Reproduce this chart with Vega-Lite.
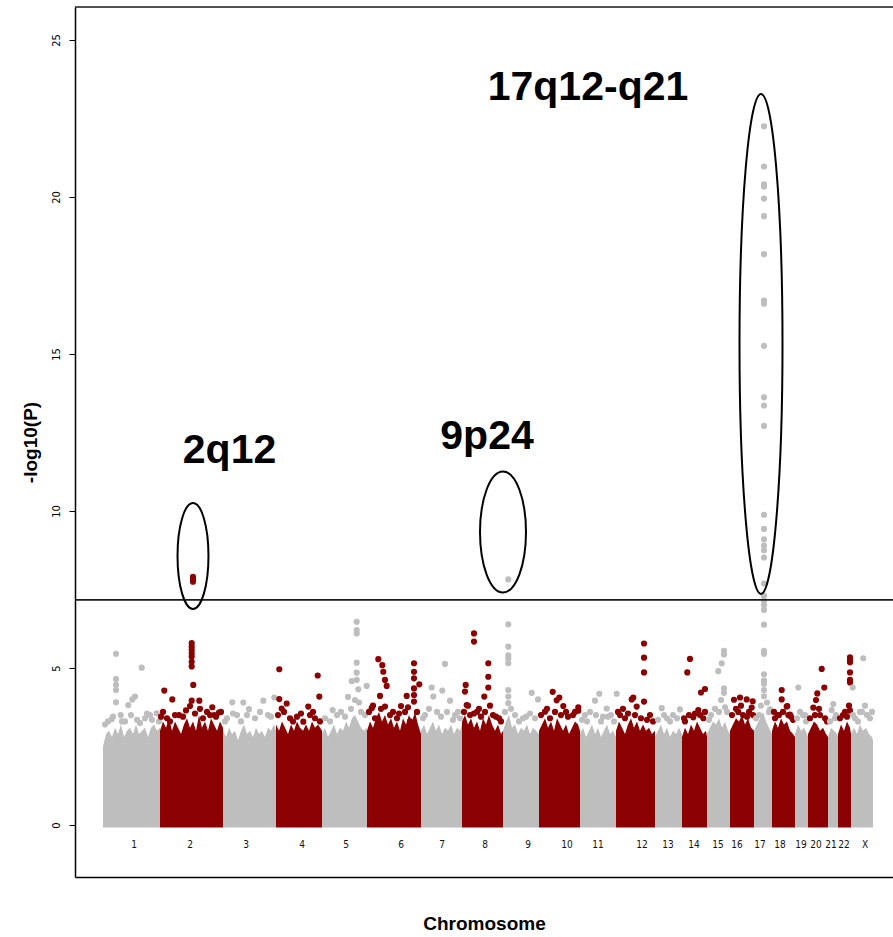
{
  "$schema": "https://vega.github.io/schema/vega-lite/v6.json",
  "autosize": {"type": "none"},
  "padding": {"left": 75, "top": 7, "right": 0, "bottom": 60},
  "width": 818,
  "height": 870,
  "background": "white",
  "view": {"stroke": null},
  "datasets": {
    "mass": [
      {"chr":"1","c":"g","pos":28,"top":2.5},{"chr":"1","c":"g","pos":31,"top":2.9},{"chr":"1","c":"g","pos":34,"top":3.0},{"chr":"1","c":"g","pos":37,"top":2.8},{"chr":"1","c":"g","pos":40,"top":3.1},{"chr":"1","c":"g","pos":43,"top":2.9},{"chr":"1","c":"g","pos":46,"top":3.2},{"chr":"1","c":"g","pos":49,"top":2.8},{"chr":"1","c":"g","pos":52,"top":3.0},{"chr":"1","c":"g","pos":55,"top":3.1},{"chr":"1","c":"g","pos":58,"top":2.9},{"chr":"1","c":"g","pos":61,"top":3.2},{"chr":"1","c":"g","pos":64,"top":2.9},{"chr":"1","c":"g","pos":67,"top":3.0},{"chr":"1","c":"g","pos":70,"top":3.1},{"chr":"1","c":"g","pos":73,"top":2.8},{"chr":"1","c":"g","pos":76,"top":3.1},{"chr":"1","c":"g","pos":79,"top":3.2},{"chr":"1","c":"g","pos":82,"top":3.0},{"chr":"1","c":"g","pos":85,"top":3.1},
      {"chr":"2","c":"r","pos":85,"top":3.0},{"chr":"2","c":"r","pos":88,"top":3.3},{"chr":"2","c":"r","pos":91,"top":3.1},{"chr":"2","c":"r","pos":94,"top":3.4},{"chr":"2","c":"r","pos":97,"top":3.0},{"chr":"2","c":"r","pos":100,"top":3.3},{"chr":"2","c":"r","pos":103,"top":3.1},{"chr":"2","c":"r","pos":106,"top":2.9},{"chr":"2","c":"r","pos":109,"top":3.2},{"chr":"2","c":"r","pos":112,"top":3.4},{"chr":"2","c":"r","pos":115,"top":3.1},{"chr":"2","c":"r","pos":118,"top":3.3},{"chr":"2","c":"r","pos":121,"top":3.0},{"chr":"2","c":"r","pos":124,"top":3.5},{"chr":"2","c":"r","pos":127,"top":3.1},{"chr":"2","c":"r","pos":130,"top":3.3},{"chr":"2","c":"r","pos":133,"top":3.0},{"chr":"2","c":"r","pos":136,"top":3.4},{"chr":"2","c":"r","pos":139,"top":3.2},{"chr":"2","c":"r","pos":142,"top":3.0},{"chr":"2","c":"r","pos":145,"top":3.3},{"chr":"2","c":"r","pos":148,"top":3.1},
      {"chr":"3","c":"g","pos":148,"top":3.0},{"chr":"3","c":"g","pos":151,"top":2.8},{"chr":"3","c":"g","pos":154,"top":3.1},{"chr":"3","c":"g","pos":157,"top":2.9},{"chr":"3","c":"g","pos":160,"top":3.0},{"chr":"3","c":"g","pos":163,"top":2.7},{"chr":"3","c":"g","pos":166,"top":3.0},{"chr":"3","c":"g","pos":169,"top":3.2},{"chr":"3","c":"g","pos":172,"top":2.9},{"chr":"3","c":"g","pos":175,"top":3.0},{"chr":"3","c":"g","pos":178,"top":2.8},{"chr":"3","c":"g","pos":181,"top":3.1},{"chr":"3","c":"g","pos":184,"top":2.9},{"chr":"3","c":"g","pos":187,"top":3.0},{"chr":"3","c":"g","pos":190,"top":2.8},{"chr":"3","c":"g","pos":193,"top":3.1},{"chr":"3","c":"g","pos":196,"top":3.0},{"chr":"3","c":"g","pos":199,"top":3.2},{"chr":"3","c":"g","pos":201,"top":3.0},
      {"chr":"4","c":"r","pos":201,"top":3.2},{"chr":"4","c":"r","pos":204,"top":3.0},{"chr":"4","c":"r","pos":207,"top":3.3},{"chr":"4","c":"r","pos":210,"top":3.1},{"chr":"4","c":"r","pos":213,"top":2.9},{"chr":"4","c":"r","pos":216,"top":3.2},{"chr":"4","c":"r","pos":219,"top":3.0},{"chr":"4","c":"r","pos":222,"top":3.3},{"chr":"4","c":"r","pos":225,"top":3.1},{"chr":"4","c":"r","pos":228,"top":3.0},{"chr":"4","c":"r","pos":231,"top":3.2},{"chr":"4","c":"r","pos":234,"top":3.0},{"chr":"4","c":"r","pos":237,"top":3.3},{"chr":"4","c":"r","pos":240,"top":3.1},{"chr":"4","c":"r","pos":243,"top":3.2},{"chr":"4","c":"r","pos":247,"top":3.0},
      {"chr":"5","c":"g","pos":247,"top":2.9},{"chr":"5","c":"g","pos":250,"top":3.1},{"chr":"5","c":"g","pos":253,"top":2.8},{"chr":"5","c":"g","pos":256,"top":3.0},{"chr":"5","c":"g","pos":259,"top":3.2},{"chr":"5","c":"g","pos":262,"top":2.9},{"chr":"5","c":"g","pos":265,"top":3.1},{"chr":"5","c":"g","pos":268,"top":3.0},{"chr":"5","c":"g","pos":271,"top":3.3},{"chr":"5","c":"g","pos":274,"top":3.1},{"chr":"5","c":"g","pos":277,"top":3.4},{"chr":"5","c":"g","pos":280,"top":3.5},{"chr":"5","c":"g","pos":283,"top":3.3},{"chr":"5","c":"g","pos":286,"top":3.1},{"chr":"5","c":"g","pos":289,"top":3.0},{"chr":"5","c":"g","pos":292,"top":3.1},
      {"chr":"6","c":"r","pos":292,"top":3.0},{"chr":"6","c":"r","pos":295,"top":3.3},{"chr":"6","c":"r","pos":298,"top":3.1},{"chr":"6","c":"r","pos":301,"top":3.4},{"chr":"6","c":"r","pos":304,"top":3.6},{"chr":"6","c":"r","pos":307,"top":3.3},{"chr":"6","c":"r","pos":310,"top":3.5},{"chr":"6","c":"r","pos":313,"top":3.2},{"chr":"6","c":"r","pos":316,"top":3.4},{"chr":"6","c":"r","pos":319,"top":3.1},{"chr":"6","c":"r","pos":322,"top":3.3},{"chr":"6","c":"r","pos":325,"top":3.0},{"chr":"6","c":"r","pos":328,"top":3.4},{"chr":"6","c":"r","pos":331,"top":3.2},{"chr":"6","c":"r","pos":334,"top":3.5},{"chr":"6","c":"r","pos":337,"top":3.3},{"chr":"6","c":"r","pos":340,"top":3.6},{"chr":"6","c":"r","pos":343,"top":3.2},{"chr":"6","c":"r","pos":346,"top":2.9},
      {"chr":"7","c":"g","pos":346,"top":3.0},{"chr":"7","c":"g","pos":349,"top":3.2},{"chr":"7","c":"g","pos":352,"top":2.9},{"chr":"7","c":"g","pos":355,"top":3.1},{"chr":"7","c":"g","pos":358,"top":3.3},{"chr":"7","c":"g","pos":361,"top":3.0},{"chr":"7","c":"g","pos":364,"top":3.2},{"chr":"7","c":"g","pos":367,"top":2.9},{"chr":"7","c":"g","pos":370,"top":3.1},{"chr":"7","c":"g","pos":373,"top":3.0},{"chr":"7","c":"g","pos":376,"top":3.2},{"chr":"7","c":"g","pos":379,"top":2.9},{"chr":"7","c":"g","pos":382,"top":3.1},{"chr":"7","c":"g","pos":385,"top":3.0},{"chr":"7","c":"g","pos":387,"top":3.2},
      {"chr":"8","c":"r","pos":387,"top":3.3},{"chr":"8","c":"r","pos":390,"top":3.5},{"chr":"8","c":"r","pos":393,"top":3.2},{"chr":"8","c":"r","pos":396,"top":3.4},{"chr":"8","c":"r","pos":399,"top":3.1},{"chr":"8","c":"r","pos":402,"top":3.3},{"chr":"8","c":"r","pos":405,"top":3.0},{"chr":"8","c":"r","pos":408,"top":3.4},{"chr":"8","c":"r","pos":411,"top":3.2},{"chr":"8","c":"r","pos":414,"top":3.5},{"chr":"8","c":"r","pos":417,"top":3.2},{"chr":"8","c":"r","pos":420,"top":3.0},{"chr":"8","c":"r","pos":423,"top":3.2},{"chr":"8","c":"r","pos":426,"top":2.9},{"chr":"8","c":"r","pos":428,"top":3.0},
      {"chr":"9","c":"g","pos":428,"top":3.0},{"chr":"9","c":"g","pos":431,"top":3.3},{"chr":"9","c":"g","pos":434,"top":3.5},{"chr":"9","c":"g","pos":437,"top":3.1},{"chr":"9","c":"g","pos":440,"top":3.2},{"chr":"9","c":"g","pos":443,"top":2.9},{"chr":"9","c":"g","pos":446,"top":3.1},{"chr":"9","c":"g","pos":449,"top":3.0},{"chr":"9","c":"g","pos":452,"top":3.2},{"chr":"9","c":"g","pos":455,"top":2.9},{"chr":"9","c":"g","pos":458,"top":3.1},{"chr":"9","c":"g","pos":461,"top":3.0},{"chr":"9","c":"g","pos":464,"top":2.9},
      {"chr":"10","c":"r","pos":464,"top":3.0},{"chr":"10","c":"r","pos":467,"top":3.2},{"chr":"10","c":"r","pos":470,"top":3.4},{"chr":"10","c":"r","pos":473,"top":3.1},{"chr":"10","c":"r","pos":476,"top":3.3},{"chr":"10","c":"r","pos":479,"top":3.0},{"chr":"10","c":"r","pos":482,"top":3.4},{"chr":"10","c":"r","pos":485,"top":3.2},{"chr":"10","c":"r","pos":488,"top":3.0},{"chr":"10","c":"r","pos":491,"top":3.2},{"chr":"10","c":"r","pos":494,"top":2.9},{"chr":"10","c":"r","pos":497,"top":3.1},{"chr":"10","c":"r","pos":500,"top":3.3},{"chr":"10","c":"r","pos":503,"top":3.2},{"chr":"10","c":"r","pos":505,"top":3.0},
      {"chr":"11","c":"g","pos":505,"top":2.9},{"chr":"11","c":"g","pos":508,"top":3.1},{"chr":"11","c":"g","pos":511,"top":2.8},{"chr":"11","c":"g","pos":514,"top":3.0},{"chr":"11","c":"g","pos":517,"top":3.2},{"chr":"11","c":"g","pos":520,"top":2.9},{"chr":"11","c":"g","pos":523,"top":3.1},{"chr":"11","c":"g","pos":526,"top":2.8},{"chr":"11","c":"g","pos":529,"top":3.0},{"chr":"11","c":"g","pos":532,"top":3.2},{"chr":"11","c":"g","pos":535,"top":2.9},{"chr":"11","c":"g","pos":538,"top":3.0},{"chr":"11","c":"g","pos":541,"top":2.8},
      {"chr":"12","c":"r","pos":541,"top":3.0},{"chr":"12","c":"r","pos":544,"top":3.3},{"chr":"12","c":"r","pos":547,"top":3.1},{"chr":"12","c":"r","pos":550,"top":2.9},{"chr":"12","c":"r","pos":553,"top":3.2},{"chr":"12","c":"r","pos":556,"top":3.4},{"chr":"12","c":"r","pos":559,"top":3.1},{"chr":"12","c":"r","pos":562,"top":3.3},{"chr":"12","c":"r","pos":565,"top":3.0},{"chr":"12","c":"r","pos":568,"top":3.2},{"chr":"12","c":"r","pos":571,"top":3.0},{"chr":"12","c":"r","pos":574,"top":3.1},{"chr":"12","c":"r","pos":577,"top":2.9},{"chr":"12","c":"r","pos":580,"top":3.0},
      {"chr":"13","c":"g","pos":580,"top":2.8},{"chr":"13","c":"g","pos":583,"top":3.0},{"chr":"13","c":"g","pos":586,"top":3.2},{"chr":"13","c":"g","pos":589,"top":2.9},{"chr":"13","c":"g","pos":592,"top":3.1},{"chr":"13","c":"g","pos":595,"top":2.8},{"chr":"13","c":"g","pos":598,"top":3.0},{"chr":"13","c":"g","pos":601,"top":2.9},{"chr":"13","c":"g","pos":604,"top":3.1},{"chr":"13","c":"g","pos":607,"top":2.9},
      {"chr":"14","c":"r","pos":607,"top":2.8},{"chr":"14","c":"r","pos":610,"top":3.1},{"chr":"14","c":"r","pos":613,"top":2.9},{"chr":"14","c":"r","pos":616,"top":3.2},{"chr":"14","c":"r","pos":619,"top":3.0},{"chr":"14","c":"r","pos":622,"top":3.3},{"chr":"14","c":"r","pos":625,"top":3.1},{"chr":"14","c":"r","pos":628,"top":2.9},{"chr":"14","c":"r","pos":631,"top":3.0},{"chr":"14","c":"r","pos":632,"top":2.8},
      {"chr":"15","c":"g","pos":632,"top":2.9},{"chr":"15","c":"g","pos":635,"top":3.1},{"chr":"15","c":"g","pos":638,"top":3.3},{"chr":"15","c":"g","pos":641,"top":3.2},{"chr":"15","c":"g","pos":644,"top":3.4},{"chr":"15","c":"g","pos":647,"top":3.1},{"chr":"15","c":"g","pos":650,"top":3.3},{"chr":"15","c":"g","pos":653,"top":3.0},{"chr":"15","c":"g","pos":655,"top":2.9},
      {"chr":"16","c":"r","pos":655,"top":3.0},{"chr":"16","c":"r","pos":658,"top":3.2},{"chr":"16","c":"r","pos":661,"top":3.4},{"chr":"16","c":"r","pos":664,"top":3.3},{"chr":"16","c":"r","pos":667,"top":3.5},{"chr":"16","c":"r","pos":670,"top":3.2},{"chr":"16","c":"r","pos":673,"top":3.4},{"chr":"16","c":"r","pos":676,"top":3.1},{"chr":"16","c":"r","pos":679,"top":3.0},
      {"chr":"17","c":"g","pos":679,"top":3.0},{"chr":"17","c":"g","pos":682,"top":3.2},{"chr":"17","c":"g","pos":685,"top":3.4},{"chr":"17","c":"g","pos":688,"top":3.6},{"chr":"17","c":"g","pos":691,"top":3.3},{"chr":"17","c":"g","pos":694,"top":3.1},{"chr":"17","c":"g","pos":697,"top":2.9},
      {"chr":"18","c":"r","pos":697,"top":3.0},{"chr":"18","c":"r","pos":700,"top":3.3},{"chr":"18","c":"r","pos":703,"top":3.1},{"chr":"18","c":"r","pos":706,"top":3.4},{"chr":"18","c":"r","pos":709,"top":3.2},{"chr":"18","c":"r","pos":712,"top":3.3},{"chr":"18","c":"r","pos":715,"top":3.0},{"chr":"18","c":"r","pos":718,"top":2.9},{"chr":"18","c":"r","pos":720,"top":2.8},
      {"chr":"19","c":"g","pos":720,"top":2.9},{"chr":"19","c":"g","pos":723,"top":3.2},{"chr":"19","c":"g","pos":726,"top":3.0},{"chr":"19","c":"g","pos":729,"top":3.1},{"chr":"19","c":"g","pos":732,"top":2.9},{"chr":"19","c":"g","pos":733,"top":2.8},
      {"chr":"20","c":"r","pos":733,"top":2.9},{"chr":"20","c":"r","pos":736,"top":3.1},{"chr":"20","c":"r","pos":739,"top":3.3},{"chr":"20","c":"r","pos":742,"top":3.2},{"chr":"20","c":"r","pos":745,"top":3.0},{"chr":"20","c":"r","pos":748,"top":3.1},{"chr":"20","c":"r","pos":751,"top":2.9},{"chr":"20","c":"r","pos":753,"top":2.8},
      {"chr":"21","c":"g","pos":753,"top":2.8},{"chr":"21","c":"g","pos":756,"top":3.1},{"chr":"21","c":"g","pos":759,"top":3.0},{"chr":"21","c":"g","pos":762,"top":2.9},{"chr":"21","c":"g","pos":763,"top":2.8},
      {"chr":"22","c":"r","pos":763,"top":2.9},{"chr":"22","c":"r","pos":766,"top":3.2},{"chr":"22","c":"r","pos":769,"top":3.0},{"chr":"22","c":"r","pos":772,"top":3.3},{"chr":"22","c":"r","pos":775,"top":3.1},{"chr":"22","c":"r","pos":776,"top":2.9},
      {"chr":"X","c":"g","pos":776,"top":2.9},{"chr":"X","c":"g","pos":779,"top":3.1},{"chr":"X","c":"g","pos":782,"top":2.9},{"chr":"X","c":"g","pos":785,"top":3.2},{"chr":"X","c":"g","pos":788,"top":3.0},{"chr":"X","c":"g","pos":791,"top":3.1},{"chr":"X","c":"g","pos":794,"top":2.9},{"chr":"X","c":"g","pos":797,"top":2.8},{"chr":"X","c":"g","pos":798,"top":2.7}
    ],
    "pts": [
      {"c":"g","pos":41,"p":5.45},{"c":"g","pos":66.7,"p":5.01},{"c":"g","pos":41,"p":4.65},{"c":"g","pos":41,"p":4.46},{"c":"g","pos":41,"p":4.3},{"c":"g","pos":41,"p":3.91},{"c":"g","pos":60,"p":4.09},{"c":"g","pos":57.3,"p":4.0},{"c":"g","pos":53.3,"p":3.82},{"c":"g","pos":45.7,"p":3.5},{"c":"g","pos":36.7,"p":3.37},{"c":"g","pos":75,"p":3.5},{"c":"g","pos":81.7,"p":3.56},{"c":"g","pos":33,"p":3.3},{"c":"g","pos":50,"p":3.3},{"c":"g","pos":65,"p":3.25},{"c":"g","pos":77,"p":3.35},{"c":"g","pos":70,"p":3.4},
      {"c":"g","pos":30,"p":3.2},{"c":"g","pos":38,"p":3.45},{"c":"g","pos":47,"p":3.3},{"c":"g","pos":56,"p":3.5},{"c":"g","pos":62,"p":3.35},{"c":"g","pos":72,"p":3.55},{"c":"g","pos":84,"p":3.3},
      {"c":"r","pos":118,"p":7.9},{"c":"r","pos":118,"p":7.85},{"c":"r","pos":118,"p":7.8},{"c":"r","pos":118,"p":7.75},
      {"c":"r","pos":116.7,"p":5.79},{"c":"r","pos":116.7,"p":5.68},{"c":"r","pos":116.7,"p":5.57},{"c":"r","pos":116.7,"p":5.47},{"c":"r","pos":116.7,"p":5.36},{"c":"r","pos":116.7,"p":5.2},{"c":"r","pos":116.7,"p":5.05},{"c":"r","pos":118.3,"p":4.46},{"c":"r","pos":89.3,"p":4.28},{"c":"r","pos":97.3,"p":4.0},{"c":"r","pos":116.7,"p":3.96},{"c":"r","pos":124.3,"p":3.96},{"c":"r","pos":115,"p":3.79},{"c":"r","pos":137.3,"p":3.75},{"c":"r","pos":144,"p":3.58},{"c":"r","pos":139.3,"p":3.5},{"c":"r","pos":92,"p":3.4},{"c":"r","pos":100,"p":3.5},{"c":"r","pos":108,"p":3.45},{"c":"r","pos":120,"p":3.55},{"c":"r","pos":128,"p":3.4},{"c":"r","pos":132,"p":3.6},{"c":"r","pos":141,"p":3.45},{"c":"r","pos":86,"p":3.45},
      {"c":"r","pos":88,"p":3.6},{"c":"r","pos":95,"p":3.3},{"c":"r","pos":104,"p":3.5},{"c":"r","pos":111,"p":3.65},{"c":"r","pos":125,"p":3.7},{"c":"r","pos":135,"p":3.5},{"c":"r","pos":146,"p":3.6},
      {"c":"g","pos":157.3,"p":3.91},{"c":"g","pos":168.3,"p":3.9},{"c":"g","pos":174,"p":3.69},{"c":"g","pos":188.3,"p":3.96},{"c":"g","pos":199.3,"p":4.06},{"c":"g","pos":152,"p":3.4},{"c":"g","pos":162,"p":3.5},{"c":"g","pos":180,"p":3.4},{"c":"g","pos":193,"p":3.5},
      {"c":"g","pos":150,"p":3.3},{"c":"g","pos":158,"p":3.55},{"c":"g","pos":166,"p":3.3},{"c":"g","pos":172,"p":3.5},{"c":"g","pos":185,"p":3.6},{"c":"g","pos":196,"p":3.45},
      {"c":"r","pos":204.3,"p":4.96},{"c":"r","pos":242.7,"p":4.76},{"c":"r","pos":244.3,"p":4.09},{"c":"r","pos":204.3,"p":4.01},{"c":"r","pos":211.7,"p":3.87},{"c":"r","pos":206.7,"p":3.71},{"c":"r","pos":233.3,"p":3.77},{"c":"r","pos":235,"p":3.5},{"c":"r","pos":228.3,"p":3.29},{"c":"r","pos":215,"p":3.4},{"c":"r","pos":222,"p":3.45},{"c":"r","pos":240,"p":3.4},
      {"c":"r","pos":203,"p":3.5},{"c":"r","pos":209,"p":3.6},{"c":"r","pos":218,"p":3.3},{"c":"r","pos":226,"p":3.55},{"c":"r","pos":238,"p":3.6},{"c":"r","pos":245,"p":3.3},
      {"c":"g","pos":281.7,"p":6.47},{"c":"g","pos":281.7,"p":6.21},{"c":"g","pos":281.7,"p":6.1},{"c":"g","pos":281.7,"p":5.17},{"c":"g","pos":281.7,"p":4.85},{"c":"g","pos":281.7,"p":4.62},{"c":"g","pos":276.7,"p":4.58},{"c":"g","pos":291.7,"p":4.43},{"c":"g","pos":283.3,"p":4.32},{"c":"g","pos":280,"p":3.98},{"c":"g","pos":273,"p":4.08},{"c":"g","pos":257.7,"p":3.66},{"c":"g","pos":262,"p":3.5},{"c":"g","pos":270,"p":3.45},{"c":"g","pos":286,"p":3.6},
      {"c":"g","pos":250,"p":3.4},{"c":"g","pos":255,"p":3.3},{"c":"g","pos":266,"p":3.6},{"c":"g","pos":276,"p":3.7},{"c":"g","pos":284,"p":3.9},{"c":"g","pos":290,"p":3.5},
      {"c":"r","pos":303.3,"p":5.28},{"c":"r","pos":307.3,"p":5.09},{"c":"r","pos":308.3,"p":4.88},{"c":"r","pos":310,"p":4.62},{"c":"r","pos":311.7,"p":4.43},{"c":"r","pos":305,"p":4.11},{"c":"r","pos":339,"p":5.15},{"c":"r","pos":339,"p":4.88},{"c":"r","pos":339,"p":4.67},{"c":"r","pos":339,"p":4.35},{"c":"r","pos":339,"p":4.14},{"c":"r","pos":339,"p":3.93},{"c":"r","pos":331.7,"p":4.11},{"c":"r","pos":326,"p":3.79},{"c":"r","pos":296.7,"p":3.72},{"c":"r","pos":310,"p":3.77},{"c":"r","pos":344.3,"p":4.48},{"c":"r","pos":300,"p":3.4},{"c":"r","pos":315,"p":3.5},{"c":"r","pos":322,"p":3.4},{"c":"r","pos":330,"p":3.6},{"c":"r","pos":335,"p":3.3},
      {"c":"r","pos":294,"p":3.6},{"c":"r","pos":298,"p":3.8},{"c":"r","pos":306,"p":3.7},{"c":"r","pos":318,"p":3.6},{"c":"r","pos":324,"p":3.55},{"c":"r","pos":333,"p":3.75},{"c":"r","pos":342,"p":3.6},
      {"c":"g","pos":370,"p":5.13},{"c":"g","pos":356.7,"p":4.38},{"c":"g","pos":367.3,"p":4.28},{"c":"g","pos":375,"p":3.96},{"c":"g","pos":358.3,"p":4.09},{"c":"g","pos":350,"p":3.5},{"c":"g","pos":362,"p":3.6},{"c":"g","pos":380,"p":3.5},{"c":"g","pos":385,"p":3.4},
      {"c":"g","pos":348,"p":3.4},{"c":"g","pos":354,"p":3.7},{"c":"g","pos":366,"p":3.45},{"c":"g","pos":372,"p":3.6},{"c":"g","pos":378,"p":3.35},{"c":"g","pos":383,"p":3.6},
      {"c":"r","pos":399,"p":6.1},{"c":"r","pos":399,"p":5.84},{"c":"r","pos":413.3,"p":5.15},{"c":"r","pos":413.3,"p":4.72},{"c":"r","pos":413.3,"p":4.38},{"c":"r","pos":409.3,"p":4.09},{"c":"r","pos":390.7,"p":4.46},{"c":"r","pos":390,"p":4.25},{"c":"r","pos":391.7,"p":3.82},{"c":"r","pos":395,"p":3.5},{"c":"r","pos":402,"p":3.6},{"c":"r","pos":418,"p":3.5},{"c":"r","pos":424,"p":3.4},{"c":"r","pos":406,"p":3.45},
      {"c":"r","pos":389,"p":3.6},{"c":"r","pos":393,"p":3.8},{"c":"r","pos":399,"p":3.55},{"c":"r","pos":404,"p":3.7},{"c":"r","pos":410,"p":3.6},{"c":"r","pos":415,"p":3.8},{"c":"r","pos":421,"p":3.45},{"c":"r","pos":426,"p":3.3},
      {"c":"g","pos":433.3,"p":7.82},{"c":"g","pos":433.3,"p":6.39},{"c":"g","pos":433.3,"p":5.68},{"c":"g","pos":433.3,"p":5.4},{"c":"g","pos":433.3,"p":5.3},{"c":"g","pos":433.3,"p":5.15},{"c":"g","pos":433.3,"p":4.3},{"c":"g","pos":433.3,"p":4.09},{"c":"g","pos":433.3,"p":3.88},{"c":"g","pos":456.7,"p":4.21},{"c":"g","pos":463,"p":4.0},{"c":"g","pos":440,"p":3.5},{"c":"g","pos":448,"p":3.4},{"c":"g","pos":455,"p":3.55},
      {"c":"g","pos":430,"p":3.6},{"c":"g","pos":436,"p":3.7},{"c":"g","pos":444,"p":3.3},{"c":"g","pos":451,"p":3.45},{"c":"g","pos":460,"p":3.4},
      {"c":"r","pos":477.7,"p":4.24},{"c":"r","pos":484.3,"p":4.06},{"c":"r","pos":481.7,"p":3.97},{"c":"r","pos":488.3,"p":3.79},{"c":"r","pos":503.3,"p":3.75},{"c":"r","pos":503.3,"p":3.64},{"c":"r","pos":470,"p":3.61},{"c":"r","pos":475,"p":3.4},{"c":"r","pos":493,"p":3.45},{"c":"r","pos":498,"p":3.5},
      {"c":"r","pos":466,"p":3.5},{"c":"r","pos":472,"p":3.7},{"c":"r","pos":480,"p":3.6},{"c":"r","pos":486,"p":3.5},{"c":"r","pos":491,"p":3.6},{"c":"r","pos":500,"p":3.6},
      {"c":"g","pos":524.3,"p":4.18},{"c":"g","pos":520,"p":3.96},{"c":"g","pos":531.7,"p":3.71},{"c":"g","pos":541.7,"p":4.18},{"c":"g","pos":510,"p":3.5},{"c":"g","pos":515,"p":3.6},{"c":"g","pos":528,"p":3.45},{"c":"g","pos":536,"p":3.5},
      {"c":"g","pos":507,"p":3.35},{"c":"g","pos":512,"p":3.3},{"c":"g","pos":521,"p":3.5},{"c":"g","pos":526,"p":3.3},{"c":"g","pos":533,"p":3.45},{"c":"g","pos":539,"p":3.3},
      {"c":"r","pos":569,"p":5.78},{"c":"r","pos":569,"p":5.33},{"c":"r","pos":569,"p":4.86},{"c":"r","pos":558.3,"p":4.06},{"c":"r","pos":569,"p":3.93},{"c":"r","pos":561.7,"p":3.77},{"c":"r","pos":556.7,"p":4.0},{"c":"r","pos":545,"p":3.5},{"c":"r","pos":550,"p":3.4},{"c":"r","pos":575,"p":3.5},
      {"c":"r","pos":543,"p":3.6},{"c":"r","pos":548,"p":3.7},{"c":"r","pos":553,"p":3.55},{"c":"r","pos":560,"p":3.5},{"c":"r","pos":566,"p":3.4},{"c":"r","pos":572,"p":3.35},{"c":"r","pos":578,"p":3.3},
      {"c":"g","pos":605,"p":3.68},{"c":"g","pos":586.7,"p":3.72},{"c":"g","pos":592,"p":3.4},{"c":"g","pos":598,"p":3.5},
      {"c":"g","pos":583,"p":3.35},{"c":"g","pos":589,"p":3.5},{"c":"g","pos":595,"p":3.3},{"c":"g","pos":602,"p":3.4},
      {"c":"r","pos":615,"p":5.29},{"c":"r","pos":612.3,"p":4.86},{"c":"r","pos":630,"p":4.33},{"c":"r","pos":626,"p":4.22},{"c":"r","pos":623.3,"p":3.66},{"c":"r","pos":628.3,"p":3.4},{"c":"r","pos":618.3,"p":3.43},{"c":"r","pos":610,"p":3.3},{"c":"r","pos":620,"p":3.55},
      {"c":"r","pos":609,"p":3.4},{"c":"r","pos":614,"p":3.5},{"c":"r","pos":625,"p":3.5},{"c":"r","pos":630,"p":3.6},
      {"c":"g","pos":649,"p":5.55},{"c":"g","pos":649,"p":5.43},{"c":"g","pos":646.7,"p":5.15},{"c":"g","pos":643.3,"p":4.9},{"c":"g","pos":649,"p":4.35},{"c":"g","pos":649,"p":4.21},{"c":"g","pos":646,"p":3.98},{"c":"g","pos":636,"p":3.5},{"c":"g","pos":640,"p":3.7},{"c":"g","pos":652,"p":3.6},
      {"c":"g","pos":634,"p":3.35},{"c":"g","pos":644,"p":3.6},{"c":"g","pos":650,"p":3.75},
      {"c":"r","pos":659,"p":3.99},{"c":"r","pos":665,"p":4.06},{"c":"r","pos":671.7,"p":4.0},{"c":"r","pos":677.7,"p":3.94},{"c":"r","pos":676.7,"p":3.74},{"c":"r","pos":663.3,"p":3.6},{"c":"r","pos":668,"p":3.5},{"c":"r","pos":672,"p":3.45},
      {"c":"r","pos":657,"p":3.5},{"c":"r","pos":661,"p":3.7},{"c":"r","pos":666,"p":3.8},{"c":"r","pos":674,"p":3.6},{"c":"r","pos":678,"p":3.5},
      {"c":"g","pos":689,"p":22.25},{"c":"g","pos":689,"p":20.97},{"c":"g","pos":689,"p":20.4},{"c":"g","pos":689,"p":20.33},{"c":"g","pos":689,"p":19.95},{"c":"g","pos":689,"p":19.39},{"c":"g","pos":689,"p":18.18},{"c":"g","pos":689,"p":16.7},{"c":"g","pos":689,"p":16.6},{"c":"g","pos":689,"p":15.26},{"c":"g","pos":689,"p":13.62},{"c":"g","pos":689,"p":13.36},{"c":"g","pos":689,"p":12.71},{"c":"g","pos":689,"p":9.88},{"c":"g","pos":689,"p":9.43},{"c":"g","pos":689,"p":9.1},{"c":"g","pos":689,"p":8.9},{"c":"g","pos":689,"p":8.75},{"c":"g","pos":689,"p":8.52},{"c":"g","pos":689,"p":7.69},{"c":"g","pos":689,"p":7.3},{"c":"g","pos":689,"p":7.15},{"c":"g","pos":689,"p":7.0},{"c":"g","pos":689,"p":6.85},{"c":"g","pos":689,"p":6.38},{"c":"g","pos":689,"p":5.55},{"c":"g","pos":689,"p":5.45},{"c":"g","pos":689,"p":4.8},{"c":"g","pos":689,"p":4.6},{"c":"g","pos":689,"p":4.5},{"c":"g","pos":689,"p":4.3},{"c":"g","pos":689,"p":4.1},{"c":"g","pos":695,"p":3.68},{"c":"g","pos":684,"p":3.5},{"c":"g","pos":694,"p":3.6},
      {"c":"g","pos":681,"p":3.4},{"c":"g","pos":686,"p":3.8},{"c":"g","pos":692,"p":3.9},
      {"c":"r","pos":706.7,"p":4.3},{"c":"r","pos":706.7,"p":4.0},{"c":"r","pos":712.3,"p":3.79},{"c":"r","pos":715,"p":3.52},{"c":"r","pos":704,"p":3.5},{"c":"r","pos":711.7,"p":3.77},{"c":"r","pos":713.3,"p":3.5},{"c":"r","pos":700,"p":3.4},{"c":"r","pos":718,"p":3.35},
      {"c":"r","pos":699,"p":3.6},{"c":"r","pos":703,"p":3.5},{"c":"r","pos":708,"p":3.6},{"c":"r","pos":716,"p":3.45},
      {"c":"g","pos":723.3,"p":4.38},{"c":"g","pos":728,"p":3.5},{"c":"g","pos":731,"p":3.3},
      {"c":"g","pos":722,"p":3.4},{"c":"g","pos":725,"p":3.6},{"c":"g","pos":730,"p":3.5},
      {"c":"r","pos":746.7,"p":4.97},{"c":"r","pos":749.3,"p":4.38},{"c":"r","pos":742.3,"p":4.19},{"c":"r","pos":741,"p":3.98},{"c":"r","pos":738.3,"p":3.74},{"c":"r","pos":745,"p":3.5},{"c":"r","pos":750,"p":3.4},
      {"c":"r","pos":735,"p":3.4},{"c":"r","pos":740,"p":3.5},{"c":"r","pos":744,"p":3.7},{"c":"r","pos":752,"p":3.3},
      {"c":"g","pos":758.3,"p":3.85},{"c":"g","pos":756.7,"p":3.66},{"c":"g","pos":760,"p":3.4},
      {"c":"g","pos":755,"p":3.3},{"c":"g","pos":761,"p":3.5},
      {"c":"r","pos":775,"p":5.34},{"c":"r","pos":775,"p":5.25},{"c":"r","pos":775,"p":5.18},{"c":"r","pos":775,"p":4.86},{"c":"r","pos":775,"p":4.62},{"c":"r","pos":775,"p":4.54},{"c":"r","pos":775,"p":3.64},{"c":"r","pos":768,"p":3.5},{"c":"r","pos":772,"p":3.45},
      {"c":"r","pos":765,"p":3.4},{"c":"r","pos":770,"p":3.6},{"c":"r","pos":774,"p":3.8},
      {"c":"g","pos":788.3,"p":5.31},{"c":"g","pos":777.7,"p":4.38},{"c":"g","pos":785,"p":3.6},{"c":"g","pos":792,"p":3.5},{"c":"g","pos":780,"p":3.4},
      {"c":"g","pos":778,"p":3.5},{"c":"g","pos":783,"p":3.3},{"c":"g","pos":787,"p":3.6},{"c":"g","pos":790,"p":3.8},{"c":"g","pos":795,"p":3.4},{"c":"g","pos":797,"p":3.6}
    ],
    "chroms": [
      {"chr":"1","mid":59},{"chr":"2","mid":115},{"chr":"3","mid":171},{"chr":"4","mid":227},{"chr":"5","mid":271},{"chr":"6","mid":326},{"chr":"7","mid":367},{"chr":"8","mid":410},{"chr":"9","mid":453},{"chr":"10","mid":492},{"chr":"11","mid":523},{"chr":"12","mid":567},{"chr":"13","mid":593},{"chr":"14","mid":619},{"chr":"15","mid":643},{"chr":"16","mid":662},{"chr":"17","mid":685},{"chr":"18","mid":705},{"chr":"19","mid":726},{"chr":"20","mid":741},{"chr":"21","mid":756},{"chr":"22","mid":769},{"chr":"X","mid":790}
    ],
    "notes": [
      {"label":"2q12","pos":154.5,"p":11.53},
      {"label":"9p24","pos":412,"p":11.97},
      {"label":"17q12-q21","pos":513,"p":23.09}
    ]
  },
  "layer": [
    {
      "data": {"name": "mass"},
      "mark": {"type": "area", "interpolate": "linear"},
      "encoding": {
        "x": {"field": "pos", "type": "quantitative", "scale": {"domain": [0, 818], "nice": false, "zero": false},
          "axis": {"orient": "bottom", "title": "Chromosome", "labels": false, "ticks": false, "grid": false, "domain": true, "domainColor": "black", "domainWidth": 1.5, "titleFont": "Liberation Sans", "titleFontSize": 19, "titleFontWeight": "bold", "titleColor": "black", "titlePadding": 37}},
        "y": {"field": "top", "type": "quantitative", "stack": null, "scale": {"domain": [-1.656, 26.05], "nice": false, "zero": false},
          "axis": {"orient": "left", "title": "-log10(P)", "values": [0, 5, 10, 15, 20, 25], "grid": false, "domain": true, "domainColor": "black", "domainWidth": 1.5, "ticks": true, "tickColor": "black", "tickSize": 6, "tickWidth": 1, "labels": true, "labelAngle": -90, "labelAlign": "center", "labelBaseline": "bottom", "labelFont": "DejaVu Sans Condensed, Liberation Sans", "labelFontSize": 11, "labelColor": "black", "labelPadding": 8, "titleFont": "Liberation Sans", "titleFontSize": 19, "titleFontWeight": "bold", "titleColor": "black", "titlePadding": 10}},
        "y2": {"datum": -0.08},
        "detail": {"field": "chr"},
        "color": {"field": "c", "type": "nominal", "scale": {"domain": ["g", "r"], "range": ["#BEBEBE", "#8B0000"]}, "legend": null}
      }
    },
    {
      "data": {"name": "pts"},
      "mark": {"type": "point", "shape": "circle", "filled": true, "size": 38, "opacity": 1},
      "encoding": {
        "x": {"field": "pos", "type": "quantitative"},
        "y": {"field": "p", "type": "quantitative"},
        "color": {"field": "c", "type": "nominal", "legend": null}
      }
    },
    {
      "data": {"values": [{"edge": "threshold", "v": 7.17}, {"edge": "top", "v": 26.05}]},
      "mark": {"type": "rule", "color": "#1a1a1a", "strokeWidth": 1.6},
      "encoding": {"y": {"field": "v", "type": "quantitative"}}
    },
    {
      "data": {"values": [{"pos": 118, "p": 8.57}]},
      "mark": {"type": "point", "filled": false, "stroke": "black", "strokeWidth": 2, "opacity": 1, "size": 11236,
        "shape": "M0,-1C0.161,-1,0.292,-0.552,0.292,0C0.292,0.552,0.161,1,0,1C-0.161,1,-0.292,0.552,-0.292,0C-0.292,-0.552,-0.161,-1,0,-1Z"},
      "encoding": {
        "x": {"field": "pos", "type": "quantitative"},
        "y": {"field": "p", "type": "quantitative"}
      }
    },
    {
      "data": {"values": [{"pos": 428, "p": 9.33}]},
      "mark": {"type": "point", "filled": false, "stroke": "black", "strokeWidth": 2, "opacity": 1, "size": 14641,
        "shape": "M0,-1C0.21,-1,0.38,-0.552,0.38,0C0.38,0.552,0.21,1,0,1C-0.21,1,-0.38,0.552,-0.38,0C-0.38,-0.552,-0.21,-1,0,-1Z"},
      "encoding": {
        "x": {"field": "pos", "type": "quantitative"},
        "y": {"field": "p", "type": "quantitative"}
      }
    },
    {
      "data": {"values": [{"pos": 686, "p": 15.32}]},
      "mark": {"type": "point", "filled": false, "stroke": "black", "strokeWidth": 2, "opacity": 1, "size": 250000,
        "shape": "M0,-1C0.0475,-1,0.086,-0.552,0.086,0C0.086,0.552,0.0475,1,0,1C-0.0475,1,-0.086,0.552,-0.086,0C-0.086,-0.552,-0.0475,-1,0,-1Z"},
      "encoding": {
        "x": {"field": "pos", "type": "quantitative"},
        "y": {"field": "p", "type": "quantitative"}
      }
    },
    {
      "data": {"name": "notes"},
      "mark": {"type": "text", "font": "Liberation Sans", "fontSize": 41, "fontWeight": "bold", "color": "black", "align": "center", "baseline": "alphabetic"},
      "encoding": {
        "x": {"field": "pos", "type": "quantitative"},
        "y": {"field": "p", "type": "quantitative"},
        "text": {"field": "label"}
      }
    },
    {
      "data": {"name": "chroms"},
      "mark": {"type": "text", "font": "DejaVu Sans Condensed, Liberation Sans", "fontSize": 10, "color": "#111111", "align": "center", "baseline": "middle"},
      "encoding": {
        "x": {"field": "mid", "type": "quantitative"},
        "y": {"datum": -0.64},
        "text": {"field": "chr"}
      }
    }
  ]
}
